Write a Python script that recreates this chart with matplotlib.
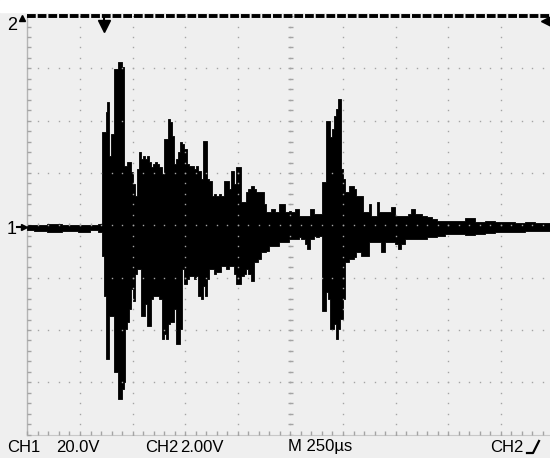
import matplotlib.pyplot as plt
import numpy as np
from matplotlib.patches import Rectangle
from matplotlib.lines import Line2D

plt.rcParams['lines.scale_dashes'] = False
font = ['Liberation Sans Narrow', 'Liberation Sans', 'DejaVu Sans']

# Oszilloskop-Bild: 10 x 8 Teilungen, Spur in Teilungen (M 250us/div)
t_div = [0.00, 0.24, 0.52, 0.81, 1.10, 1.29, 1.38,
         1.44, 1.48, 1.51, 1.53, 1.57, 1.61, 1.67, 1.70, 1.74, 1.78, 1.82, 1.84,
         1.87, 1.91, 1.95, 1.99, 2.03, 2.07, 2.10, 2.14, 2.18, 2.22, 2.25, 2.29,
         2.33, 2.37, 2.41, 2.44, 2.48, 2.52, 2.58, 2.62, 2.65, 2.69, 2.73, 2.77,
         2.81, 2.84, 2.88, 2.92, 2.96, 3.00, 3.05, 3.09, 3.15, 3.19, 3.22, 3.28,
         3.32, 3.36, 3.40, 3.43, 3.47, 3.53, 3.57, 3.62, 3.66, 3.72, 3.76, 3.81,
         3.85, 3.89, 3.95, 3.98, 4.04, 4.10, 4.14, 4.17, 4.23, 4.27, 4.33, 4.36,
         4.42, 4.48, 4.52, 4.56, 4.61, 4.67, 4.75, 4.80, 4.86, 4.94, 4.99, 5.05,
         5.13, 5.18, 5.24, 5.30, 5.35, 5.41, 5.47, 5.52, 5.58,
         5.62, 5.66, 5.70, 5.73, 5.77, 5.81, 5.85, 5.89, 5.92, 5.96, 5.98, 6.02,
         6.06, 6.09, 6.13, 6.19, 6.23, 6.26, 6.32, 6.36, 6.40, 6.46, 6.51, 6.57,
         6.63, 6.67, 6.70, 6.76, 6.82, 6.89, 6.95, 7.03, 7.08, 7.14, 7.22, 7.27,
         7.33, 7.39, 7.46, 7.56, 7.65, 7.75, 7.84, 8.03, 8.22, 8.41, 8.60, 8.79,
         8.99, 9.18, 9.37, 9.56, 9.75, 10.00]
v_top = [0.01, 0.01, 0.03, 0.01, 0.01, 0.01, 0.03,
         1.79, 1.79, 2.17, 2.36, 1.33, 1.75, 2.99, 2.99, 3.13, 3.13, 3.03, 1.14,
         1.14, 1.21, 1.21, 1.02, 0.79, 0.56, 1.08, 1.41, 1.27, 1.33, 1.27, 1.33,
         1.21, 1.12, 1.18, 1.21, 1.18, 1.12, 0.98, 1.65, 1.65, 2.04, 1.98, 1.71,
         1.18, 1.27, 1.41, 1.60, 1.56, 1.46, 1.18, 1.14, 1.14, 1.08, 1.14, 1.04,
         0.89, 1.62, 1.62, 0.89, 0.85, 0.56, 0.60, 0.56, 0.60, 0.56, 0.85, 0.85,
         0.70, 1.04, 0.79, 1.12, 1.12, 0.45, 0.45, 0.64, 0.70, 0.76, 0.70, 0.64,
         0.64, 0.64, 0.41, 0.26, 0.26, 0.32, 0.26, 0.41, 0.41, 0.26, 0.28, 0.26,
         0.32, 0.18, 0.18, 0.18, 0.18, 0.32, 0.22, 0.22, 0.22,
         0.83, 0.83, 2.00, 2.00, 1.69, 1.85, 2.09, 2.23, 2.42, 2.42, 1.08, 0.89,
         0.64, 0.64, 0.76, 0.76, 0.70, 0.56, 0.56, 0.56, 0.26, 0.26, 0.41, 0.18,
         0.18, 0.45, 0.26, 0.26, 0.26, 0.26, 0.35, 0.18, 0.18, 0.18, 0.18, 0.22,
         0.32, 0.22, 0.22, 0.18, 0.16, 0.12, 0.09, 0.09, 0.09, 0.14, 0.07, 0.09,
         0.07, 0.07, 0.05, 0.07, 0.05, 0.05]
v_bot = [-0.09, -0.11, -0.12, -0.11, -0.12, -0.09, -0.12,
         -0.58, -1.35, -2.55, -2.55, -1.73, -1.73, -2.80, -2.80, -3.32, -3.32, -3.13, -2.99,
         -1.98, -1.85, -1.60, -1.21, -1.45, -0.93, -0.83, -0.83, -1.73, -1.73, -1.50, -1.92,
         -1.92, -1.41, -1.35, -1.35, -1.35, -1.41, -2.17, -2.07, -2.17, -1.88, -1.85, -1.85,
         -1.60, -2.27, -2.27, -1.98, -0.83, -1.12, -1.02, -0.97, -0.97, -1.02, -0.97, -1.35,
         -1.41, -1.16, -1.35, -1.02, -0.83, -0.83, -0.93, -0.89, -0.89, -0.77, -0.77, -0.83,
         -0.77, -0.77, -0.93, -1.12, -1.12, -0.97, -0.93, -0.83, -0.93, -1.06, -0.70, -0.70,
         -0.64, -0.51, -0.51, -0.49, -0.39, -0.39, -0.39, -0.32, -0.32, -0.32, -0.26, -0.26,
         -0.26, -0.22, -0.26, -0.35, -0.45, -0.26, -0.20, -0.22, -0.20,
         -1.63, -1.63, -1.27, -1.41, -1.98, -1.98, -1.88, -2.17, -1.98, -1.79, -1.79, -1.41,
         -0.70, -0.70, -0.64, -0.64, -0.60, -0.51, -0.51, -0.58, -0.58, -0.58, -0.32, -0.32,
         -0.32, -0.32, -0.32, -0.51, -0.32, -0.32, -0.32, -0.35, -0.45, -0.35, -0.26, -0.26,
         -0.26, -0.26, -0.26, -0.26, -0.22, -0.22, -0.20, -0.16, -0.16, -0.18, -0.16, -0.14,
         -0.12, -0.12, -0.12, -0.11, -0.11, -0.11]

trig_t = 1.45
W, H = 550, 458
bg = '#efefef'
dotc = '#a4a4a4'

fig = plt.figure(figsize=(W / 100, H / 100), dpi=100, facecolor=bg)
fig.patches.append(Rectangle((0, 1 - 12 / H), 1, 12 / H, transform=fig.transFigure,
                             color='white', zorder=0))
ax = fig.add_axes([27.4 / W, 23.4 / H, 526 / W, 418.5 / H])
ax.set_facecolor(bg)
ax.set_xlim(0, 10)
ax.set_ylim(-4, 4)
ax.axis('off')

# Raster (punktiert), Mittelachsen mit Teilstrichen
xs = np.arange(0, 10.01, 0.2)
ys = np.arange(-4, 4.01, 0.2)
for d in range(1, 10):
    if d == 5:
        ax.plot(np.full(len(ys), d), ys, ls='none', marker='_', ms=3.6, mew=1, color=dotc, zorder=1)
    ax.plot(np.full(len(ys), d), ys, ls='none', marker='s', ms=1.0, mew=0, color=dotc, zorder=3)
for v in range(-3, 4):
    if v == 0:
        ax.plot(xs, np.zeros(len(xs)), ls='none', marker='|', ms=3.6, mew=1, color=dotc, zorder=1)
    ax.plot(xs, np.full(len(xs), v), ls='none', marker='s', ms=1.0, mew=0, color=dotc, zorder=3)
# Ränder
ax.plot([0, 0], [-4, 4], color='#b4b4b4', lw=1, zorder=1, clip_on=False)
ax.plot(np.zeros(len(ys)), ys, ls='none', marker=1, ms=3, mew=1, color=dotc, clip_on=False)
ax.plot([0, 10], [-4, -4], color='#c8c8c8', lw=0.8, zorder=1, clip_on=False)
ax.plot(xs, np.full(len(xs), -4), ls='none', marker=2, ms=3, mew=1, color=dotc, clip_on=False)

# Kurve
ax.fill_between(t_div, v_bot, v_top, step='mid', color='black', lw=0.6, zorder=2)

# CH2 oben (ausserhalb), gestrichelt
ax.plot([0, 10], [4, 4], color='black', lw=2.8, dashes=(6.3, 1.4), clip_on=False, zorder=4)

# Markierungen
ax.plot([trig_t, trig_t], [4, 3.86], color='black', lw=1.5, clip_on=False, zorder=5)
ax.plot(trig_t, 3.82, marker='v', ms=8, color='black', clip_on=False, zorder=5)
ax.plot(-0.11, 3.97, marker='^', ms=5, color='black', clip_on=False, zorder=5)
ax.plot([-0.19, -0.06], [-0.03, -0.03], color='black', lw=1.5, clip_on=False, zorder=5)
ax.plot(-0.07, -0.03, marker='>', ms=5, color='black', clip_on=False, zorder=5)
ax.plot(9.88, 3.9, marker='<', ms=8, color='black', clip_on=False, zorder=5)

fig.text(7 / W, 1 - 26 / H, '2', fontsize=13, family=font, va='center', ha='left')
fig.text(7 / W, 1 - 229 / H, '1', fontsize=13, family=font, va='center', ha='left')

# Beschriftung unten
ty = 1 - 447 / H
fig.text(7 / W, ty, 'CH1', fontsize=12, family=font, va='center')
fig.text(56 / W, ty, '20.0V', fontsize=12, family=font, va='center')
fig.text(145 / W, ty, 'CH2', fontsize=12, family=font, va='center')
fig.text(180 / W, ty, '2.00V', fontsize=12, family=font, va='center')
fig.text(288 / W, ty, 'M 250\u00b5s', fontsize=12, family=font, va='center')
fig.text(490 / W, ty, 'CH2', fontsize=12, family=font, va='center')
fig.lines.append(Line2D([527 / W, 533 / W, 539 / W], [1 - 453 / H, 1 - 453 / H, 1 - 441 / H],
                        transform=fig.transFigure, color='black', lw=1.6))

fig.savefig('out.png', dpi=100, facecolor=bg)
